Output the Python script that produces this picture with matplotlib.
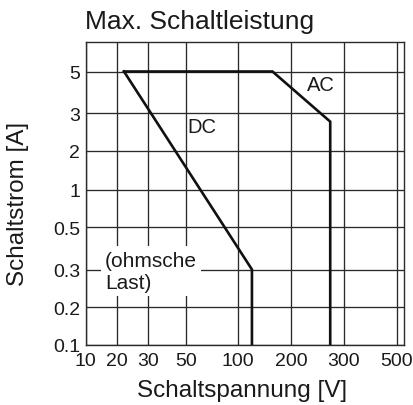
import numpy as np
import matplotlib
matplotlib.use('Agg')
import matplotlib.pyplot as plt

plt.rcParams['font.family'] = ['Liberation Sans', 'DejaVu Sans']

# ---- data ----
x_ticks = [10, 20, 30, 50, 100, 200, 300, 500]
x_tick_labels = ['10', '20', '30', '50', '100', '200', '300', '500']
y_ticks = [0.1, 0.2, 0.3, 0.5, 1, 2, 3, 5]
y_tick_labels = ['0.1', '0.2', '0.3', '0.5', '1', '2', '3', '5']

ac_voltage = [22, 157, 270, 270]
ac_current = [5, 5, 2.74, 0.1]
dc_voltage = [22, 120, 120]
dc_current = [5, 0.3, 0.1]

# ---- axis scale layout (grid-line spacing of the original chart) ----
x_grid_pos = [0, 31, 62, 100, 152.3, 205.3, 258.3, 311.3]
y_grid_pos = [0, 37.4, 75.2, 117.4, 155, 193.7, 231.5, 273.2]


def make_scale(vals, pos):
    lv = np.log10(np.asarray(vals, float))
    pos = np.asarray(pos, float)
    s_lo = (pos[1] - pos[0]) / (lv[1] - lv[0])
    s_hi = (pos[-1] - pos[-2]) / (lv[-1] - lv[-2])
    lv_ext = np.concatenate([[lv[0] - 10], lv, [lv[-1] + 10]])
    pos_ext = np.concatenate([[pos[0] - 10 * s_lo], pos, [pos[-1] + 10 * s_hi]])

    def fwd(v):
        v = np.asarray(v, float)
        return np.interp(np.log10(np.clip(v, 1e-12, None)), lv_ext, pos_ext)

    def inv(p):
        return 10 ** np.interp(np.asarray(p, float), pos_ext, lv_ext)

    return fwd, inv


fx, ix = make_scale(x_ticks, x_grid_pos)
fy, iy = make_scale(y_ticks, y_grid_pos)

W, H = 413, 406
fig = plt.figure(figsize=(W / 100, H / 100), dpi=100)
ax_left, ax_right, ax_top, ax_bottom = 85.7, 404.0, 43.3, 345.7
ax = fig.add_axes([ax_left / W, (H - ax_bottom) / H,
                   (ax_right - ax_left) / W, (ax_bottom - ax_top) / H])

ax.set_xscale('function', functions=(fx, ix))
ax.set_yscale('function', functions=(fy, iy))
ax.set_xlim(10, float(ix(ax_right - ax_left)))
ax.set_ylim(0.1, float(iy(ax_bottom - ax_top)))

ax.set_xticks(x_ticks, labels=x_tick_labels)
ax.set_yticks(y_ticks, labels=y_tick_labels)
ax.minorticks_off()
ax.tick_params(length=0, labelsize=14, colors='#1a1a1a')
ax.tick_params(axis='x', pad=5.5)
ax.tick_params(axis='y', pad=4)

ax.grid(True, color='#2a2a2a', lw=0.95)
for s in ax.spines.values():
    s.set_color('#2a2a2a')
    s.set_linewidth(1.0)

ax.plot(ac_voltage, ac_current, color='#111111', lw=1.9, solid_joinstyle='miter', zorder=4)
ax.plot(dc_voltage, dc_current, color='#111111', lw=1.9, solid_joinstyle='miter', zorder=4)

ax.text(0.695, 0.859, 'AC', transform=ax.transAxes, fontsize=14.5, ha='left', va='center', color='#1a1a1a')
ax.text(0.321, 0.720, 'DC', transform=ax.transAxes, fontsize=14.5, ha='left', va='center', color='#1a1a1a')
ax.text(0.0606, 0.243, '(ohmsche\nLast)', transform=ax.transAxes, fontsize=15, ha='left', va='center',
        color='#1a1a1a', linespacing=1.22,
        bbox=dict(boxstyle='square,pad=0.2', fc='white', ec='none'), zorder=5)

fig.text(85 / W, 1 - 29.3 / H, 'Max. Schaltleistung', fontsize=19, ha='left', va='baseline', color='#1a1a1a')

ax.set_xlabel('Schaltspannung [V]', fontsize=17.5, va='baseline', color='#1a1a1a')
ax.xaxis.set_label_coords((242.5 - ax_left) / (ax_right - ax_left), (ax_bottom - 397.3) / (ax_bottom - ax_top))
ax.set_ylabel('Schaltstrom [A]', fontsize=17.5, va='center', color='#1a1a1a')
ax.yaxis.set_label_coords((18.5 - ax_left) / (ax_right - ax_left), (ax_bottom - 203.5) / (ax_bottom - ax_top))

fig.savefig('out.png', dpi=100)
